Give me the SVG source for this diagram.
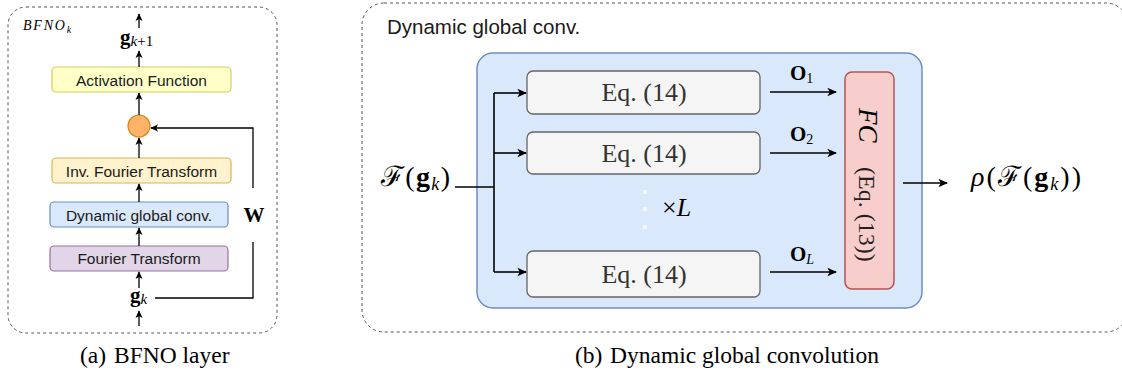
<svg xmlns="http://www.w3.org/2000/svg" width="1122" height="375" viewBox="0 0 1122 375">
<style>
.panel{fill:none;stroke:#555;stroke-width:1;stroke-dasharray:3 3}
.sans{font-family:"Liberation Sans",Arial,sans-serif;fill:#1a1a1a}
.serif{font-family:"Liberation Serif","Times New Roman",serif;fill:#000}
.math{font-family:"Liberation Serif","DejaVu Serif",serif;fill:#000}
.bold{font-weight:bold}
.it{font-style:italic}
.edge{fill:none;stroke:#000;stroke-width:1.3}
.edge2{fill:none;stroke:#000;stroke-width:1.6}
.eq{fill:#f5f5f5;stroke:#666;stroke-width:1.3}
.eqt{font-family:"Liberation Serif","Times New Roman",serif;font-size:26px;fill:#333;text-anchor:middle}
.lbl{font-family:"Liberation Sans",Arial,sans-serif;font-size:15.5px;fill:#1a1a1a;text-anchor:middle}
</style>
<defs>
<marker id="ah" viewBox="0 0 10 10" refX="9" refY="5" markerWidth="6" markerHeight="6" markerUnits="strokeWidth" orient="auto">
<path d="M0,0.5 L10,5 L0,9.5 L2.5,5 z" fill="#000"/>
</marker>
</defs>

<!-- Left panel -->
<g id="panel-a">
<rect class="panel" x="8" y="7" width="269" height="326" rx="18"/>
<text class="math it" x="23" y="30" font-size="14" letter-spacing="1.8">BFNO<tspan font-size="10" dy="3" letter-spacing="0">k</tspan></text>
<text class="math" x="120" y="44" font-size="21"><tspan class="bold">g</tspan><tspan class="it" font-size="15" dy="2">k</tspan><tspan font-size="15">+1</tspan></text>
</g>
<g id="activation">
<rect x="52" y="67" width="179" height="25" rx="4" fill="#ffffc8" stroke="#d0d05a" stroke-width="1.2"/>
<text class="lbl" x="141.5" y="85.5">Activation Function</text>
</g>
<g id="sum">
<circle cx="139" cy="126" r="11" fill="#ffb366" stroke="#d6861d" stroke-width="1.2"/>
</g>
<g id="ifft">
<rect x="52" y="158" width="179" height="25" rx="4" fill="#fff2cc" stroke="#d6b656" stroke-width="1.2"/>
<text class="lbl" x="141.5" y="176.5">Inv. Fourier Transform</text>
</g>
<g id="dgc">
<rect x="50" y="202" width="178" height="25" rx="4" fill="#dae8fc" stroke="#6c8ebf" stroke-width="1.2"/>
<text class="lbl" x="139" y="220.5">Dynamic global conv.</text>
</g>
<g id="fft">
<rect x="50" y="246" width="178" height="25" rx="4" fill="#e1d5e7" stroke="#9673a6" stroke-width="1.2"/>
<text class="lbl" x="139" y="264">Fourier Transform</text>
</g>
<g id="gk">
<text class="math" x="130" y="302" font-size="21"><tspan class="bold">g</tspan><tspan class="it" font-size="15" dy="2">k</tspan></text>
</g>
<g id="w-label">
<text class="math bold" x="254" y="222" font-size="21" text-anchor="middle">W</text>
</g>

<!-- Right panel -->
<g id="panel-b">
<rect class="panel" x="362" y="3" width="766" height="329" rx="22"/>
<text class="sans" x="387" y="34" font-size="20.5">Dynamic global conv.</text>
</g>
<g id="container">
<rect x="477" y="53" width="445" height="255" rx="16" fill="#dae8fc" stroke="#6c8ebf" stroke-width="1.5"/>
</g>
<g id="eq1">
<rect class="eq" x="527" y="71" width="233" height="43" rx="6"/>
<text class="eqt" x="644" y="101">Eq. (14)</text>
</g>
<g id="eq2">
<rect class="eq" x="527" y="132" width="233" height="42" rx="6"/>
<text class="eqt" x="644" y="162">Eq. (14)</text>
</g>
<g id="eqL">
<rect class="eq" x="527" y="251" width="233" height="46" rx="6"/>
<text class="eqt" x="644" y="283">Eq. (14)</text>
</g>
<g id="dots">
<rect x="643" y="190" width="4" height="4" fill="#f4f8fe"/>
<rect x="643" y="207" width="4" height="4" fill="#f4f8fe"/>
<rect x="643" y="225" width="4" height="4" fill="#f4f8fe"/>
<text class="math" x="662" y="216" font-size="26">×<tspan class="it">L</tspan></text>
</g>
<g id="fc">
<rect x="845" y="72" width="49" height="217" rx="7" fill="#f8cecc" stroke="#b85450" stroke-width="1.5"/>
<text class="math" transform="translate(868,183) rotate(90)" y="9" font-size="27"><tspan class="it" x="-75">FC</tspan><tspan x="-16" font-size="24" fill="#222">(Eq. (13))</tspan></text>
</g>
<g id="input">
<text class="math" x="381" y="186" font-size="28" textLength="69" lengthAdjust="spacing">ℱ(<tspan class="bold">g</tspan><tspan class="it" font-size="18" dy="4">k</tspan><tspan dy="-4">)</tspan></text>
</g>
<g id="output">
<text class="math" x="971" y="186" font-size="28" textLength="110" lengthAdjust="spacing"><tspan class="it">ρ</tspan>(ℱ(<tspan class="bold">g</tspan><tspan class="it" font-size="18" dy="4">k</tspan><tspan dy="-4">))</tspan></text>
</g>
<g id="olabels">
<text class="math" x="790" y="80" font-size="21"><tspan class="bold">O</tspan><tspan font-size="14" dy="3">1</tspan></text>
<text class="math" x="790" y="141" font-size="21"><tspan class="bold">O</tspan><tspan font-size="14" dy="3">2</tspan></text>
<text class="math" x="790" y="261" font-size="21"><tspan class="bold">O</tspan><tspan class="it" font-size="14" dy="3">L</tspan></text>
</g>

<!-- Connectors -->
<g id="connectors">
<line class="edge" x1="139" y1="28" x2="139" y2="14" marker-end="url(#ah)"/>
<line class="edge" x1="139" y1="67" x2="139" y2="51" marker-end="url(#ah)"/>
<line class="edge" x1="139" y1="115" x2="139" y2="93" marker-end="url(#ah)"/>
<line class="edge" x1="139" y1="158" x2="139" y2="138" marker-end="url(#ah)"/>
<line class="edge" x1="139" y1="202" x2="139" y2="184" marker-end="url(#ah)"/>
<line class="edge" x1="139" y1="246" x2="139" y2="228" marker-end="url(#ah)"/>
<line class="edge" x1="139" y1="288" x2="139" y2="272" marker-end="url(#ah)"/>
<line class="edge" x1="139" y1="326" x2="139" y2="311" marker-end="url(#ah)"/>
<polyline class="edge" points="155,298 253,298 253,242"/>
<polyline class="edge" points="253,188 253,128 151,128" marker-end="url(#ah)"/>

<polyline class="edge2" points="455,187 494,187"/>
<line class="edge2" x1="494" y1="93" x2="494" y2="272"/>
<line class="edge2" x1="494" y1="93" x2="526" y2="93" marker-end="url(#ah)"/>
<line class="edge2" x1="494" y1="153" x2="526" y2="153" marker-end="url(#ah)"/>
<line class="edge2" x1="494" y1="272" x2="526" y2="272" marker-end="url(#ah)"/>
<line class="edge2" x1="770" y1="92" x2="836" y2="92" marker-end="url(#ah)"/>
<line class="edge2" x1="770" y1="153" x2="836" y2="153" marker-end="url(#ah)"/>
<line class="edge2" x1="770" y1="272" x2="836" y2="272" marker-end="url(#ah)"/>
<line class="edge2" x1="903" y1="183" x2="947" y2="183" marker-end="url(#ah)"/>
</g>

<!-- Captions -->
<text class="serif" x="80" y="363" font-size="23.5">(a)<tspan x="114">BFNO layer</tspan></text>
<text class="serif" x="575" y="363" font-size="23.5">(b)<tspan x="610">Dynamic global convolution</tspan></text>
</svg>
